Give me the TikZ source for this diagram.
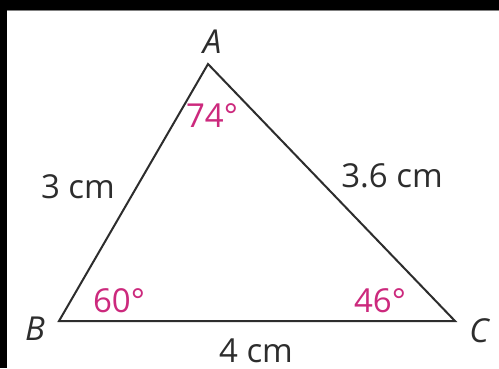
\documentclass[tikz,border=0pt]{standalone}
\usepackage{fontspec}
\setmainfont{Open Sans}
\definecolor{angmag}{RGB}{204,41,125}
\definecolor{edge}{RGB}{45,45,45}
\begin{document}
\begin{tikzpicture}[x=1pt,y=-1pt,
  lbl/.style={inner sep=0pt,anchor=base,font=\fontsize{33}{36}\selectfont,text=edge},
  vlbl/.style={lbl,font=\fontsize{33}{36}\selectfont\itshape},
  ang/.style={lbl,text=angmag},
  side/.style={draw=edge,line width=2pt,line join=miter}]
\useasboundingbox (0,0) rectangle (499,368);
\fill[black] (0,0) rectangle (499,368);
\fill[white] (7,10) rectangle (499,368);
\draw[gray,line width=1pt] (7,10.5) -- (499,10.5);
\coordinate (A) at (208,64);
\coordinate (B) at (59,321);
\coordinate (C) at (455,321);
\draw[side] (A) -- (B) -- (C) -- cycle;
\node[vlbl] (la) at (212,53) {A};
\node[vlbl] (lb) at (35,340) {B};
\node[vlbl] (lc) at (479,342) {C};
\node[ang] (aa) at (212,127) {74°};
\node[ang] (ab) at (119,312) {60°};
\node[ang] (ac) at (380,312) {46°};
\node[lbl] (sab) at (78,198) {3 cm};
\node[lbl] (sac) at (392,187) {3.6 cm};
\node[lbl] (sbc) at (256,362) {4 cm};
\end{tikzpicture}
\end{document}
